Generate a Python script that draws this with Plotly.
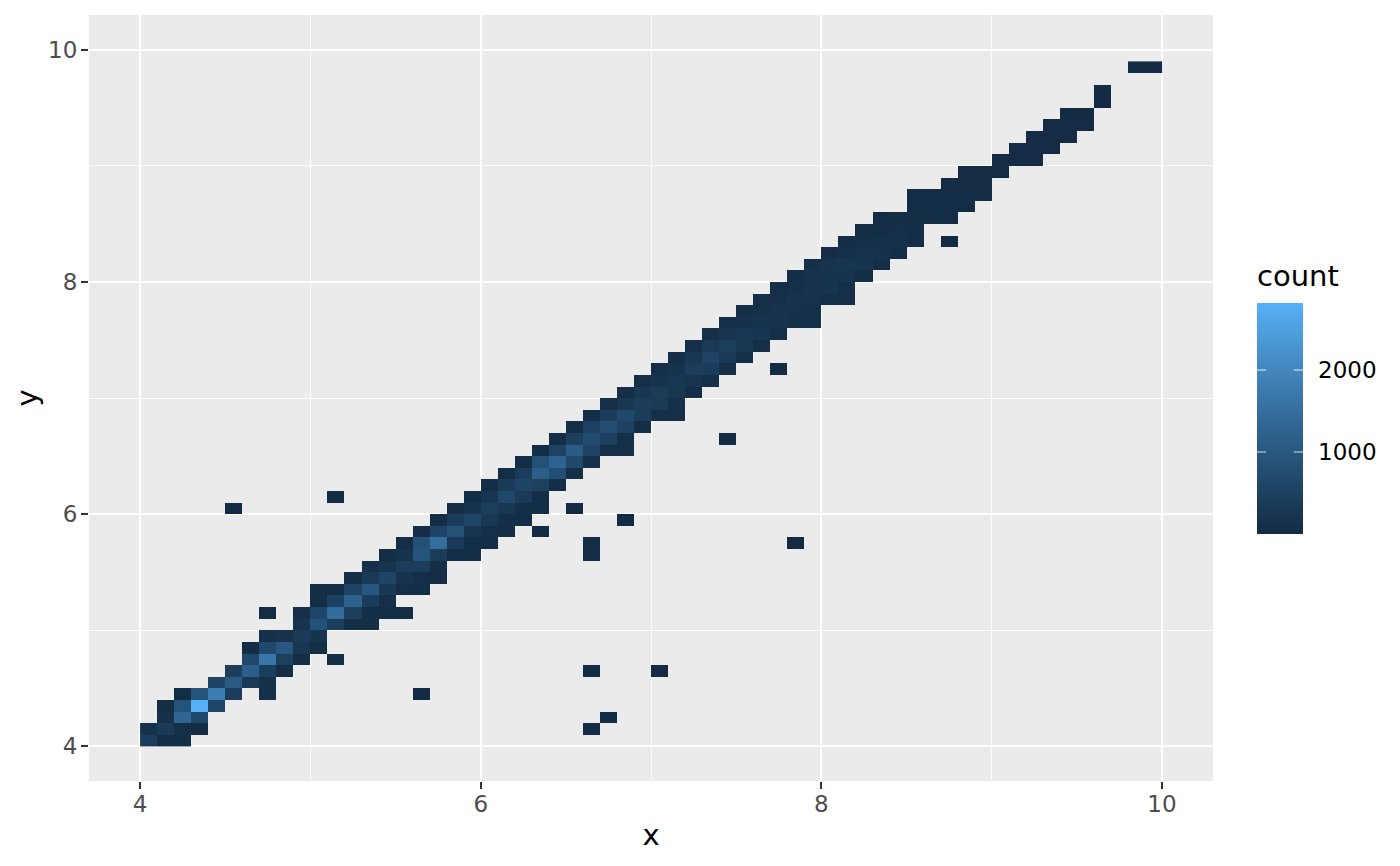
import numpy as np
import plotly.graph_objects as go

# Bin layout (bin width 0.1, lower edges start at 4.0)
x_bin_centers = [round(4.05 + 0.1 * i, 2) for i in range(60)]
y_bin_centers = [round(4.05 + 0.1 * i, 2) for i in range(59)]

# First x-bin index in each y-bin row, and the counts running along that row
row_start = [0, 0, 1, 1, 2, 4, 5, 6, 6, 7, 9, 9, 10, 10, 12, 13, 14, 15, 16, 17,
             18, 19, 20, 21, 22, 23, 24, 25, 26, 27, 28, 29, 30, 31, 32, 33, 34, 35, 36, 37,
             38, 39, 40, 41, 42, 43, 45, 45, 47, 48, 50, 51, 52, 53, 54, 56, 56, 0, 58]
row_counts = [
    [420, 80, 60], [150, 350, 90, 40], [130, 1300, 650], [60, 900, 2817, 620],
    [50, 900, 1800, 420], [600, 1070, 320, 130], [450, 1150, 450, 60], [650, 1650, 480, 60],
    [50, 650, 1000, 280, 60], [120, 170, 350, 200], [200, 880, 450, 60, 60],
    [100, 620, 1460, 470, 80, 80, 60], [60, 520, 1250, 420, 100], [60, 60, 560, 1000, 300, 90, 70],
    [60, 320, 600, 200, 90, 70], [120, 220, 400, 400, 100], [80, 200, 900, 420, 70, 70],
    [80, 850, 1490, 350, 80, 80], [80, 600, 850, 250, 90, 70], [70, 420, 620, 300, 100, 80],
    [70, 200, 450, 270, 70, 70], [80, 250, 650, 350, 80], [70, 350, 600, 480, 80],
    [70, 400, 1150, 800, 90], [70, 850, 1250, 650, 90], [70, 550, 1100, 550, 90, 90],
    [80, 480, 750, 480, 100], [80, 500, 750, 500, 80], [100, 400, 680, 420, 100, 100],
    [100, 280, 420, 350, 110], [90, 280, 380, 280, 90], [90, 190, 270, 230, 90],
    [90, 160, 400, 400, 100], [80, 280, 560, 330, 90], [90, 320, 450, 270, 90],
    [90, 240, 300, 250, 90], [90, 140, 220, 200, 110, 110], [90, 110, 170, 140, 110],
    [90, 90, 180, 160, 90, 90], [90, 120, 170, 220, 90], [80, 170, 220, 220, 80],
    [90, 200, 250, 200, 80], [80, 120, 170, 130, 80], [70, 100, 110, 110, 70],
    [60, 80, 90, 80], [50, 60, 60, 50, 50], [45, 45, 45, 45], [45, 45, 45, 45, 45],
    [40, 40, 40], [40, 40, 40], [30, 30, 30], [30, 30, 30], [30, 30, 30], [30, 30, 30],
    [20, 20], [10], [10], [], [10, 10],
]

# Isolated bins away from the main band
stray_x_bin = [7, 16, 26, 27, 26, 30, 11, 7, 5, 11, 25, 23, 28, 26, 26, 38, 34, 37, 47]
stray_y_bin = [4, 4, 1, 2, 6, 6, 7, 11, 20, 21, 20, 18, 19, 16, 17, 17, 26, 32, 43]
stray_count = [110, 10, 10, 10, 10, 10, 60, 40, 10, 10, 10, 10, 10, 30, 30, 10, 10, 10, 10]

x_ticks = [4, 6, 8, 10]
y_ticks = [4, 6, 8, 10]
minor_ticks = [5, 7, 9]
legend_ticks = [1000, 2000]
legend_title = "count"
count_max = 2817

# ggplot2 default gradient (#132B43 -> #56B1F7, interpolated in Lab)
gradient = [[0.0, "#132B43"], [0.125, "#1A3A57"], [0.25, "#214A6D"], [0.375, "#2A5A83"],
            [0.5, "#336A98"], [0.625, "#3C7BAE"], [0.75, "#458CC5"], [0.875, "#4D9EDD"],
            [1.0, "#56B1F7"]]

z = [[None] * len(x_bin_centers) for _ in y_bin_centers]
for r, (s, counts) in enumerate(zip(row_start, row_counts)):
    for k, n in enumerate(counts):
        z[r][s + k] = n
for c, r, n in zip(stray_x_bin, stray_y_bin, stray_count):
    z[r][c] = n

W, H = 1400, 866
def xdom(a, b): return [a / W, b / W]
def ydom(top, bottom): return [(H - bottom) / H, (H - top) / H]

fig = go.Figure()
fig.add_trace(go.Heatmap(x=x_bin_centers, y=y_bin_centers, z=z, colorscale=gradient,
                         zmin=0, zmax=count_max, showscale=False, hoverongaps=False,
                         xaxis="x", yaxis="y"))

# Legend colour bar drawn as a ramp on its own small axes, so its ticks can sit on both edges
ramp = np.linspace(0, count_max, 232)
fig.add_trace(go.Heatmap(x=[0], y=ramp, z=[[v] for v in ramp], colorscale=gradient,
                         zmin=0, zmax=count_max, showscale=False, hoverinfo="skip",
                         xaxis="x2", yaxis="y2"))
for t in legend_ticks:
    fig.add_trace(go.Scatter(x=[-0.5, -0.3, None, 0.3, 0.5], y=[t, t, None, t, t], mode="lines",
                             line=dict(color="rgba(255,255,255,0.85)", width=1),
                             hoverinfo="skip", showlegend=False, xaxis="x2", yaxis="y2"))

FONT = "DejaVu Sans"
tickfont = dict(family=FONT, size=23, color="#4D4D4D")
axis_common = dict(showgrid=True, gridcolor="white", gridwidth=2.4, zeroline=False, showline=False,
                   ticks="outside", ticklen=7, tickwidth=2.3, tickcolor="#333333",
                   tickfont=tickfont, fixedrange=True,
                   minor=dict(tickvals=minor_ticks, showgrid=True, gridcolor="white", gridwidth=1.2,
                              ticks=""))

fig.update_layout(
    width=W, height=H, margin=dict(l=0, r=0, t=0, b=0), autosize=False,
    paper_bgcolor="white", plot_bgcolor="#EBEBEB", showlegend=False,
    font=dict(family=FONT),
    xaxis=dict(domain=xdom(89, 1213), range=[3.7, 10.3], tickvals=x_ticks, anchor="y",
               ticklabelstandoff=-5,
               title=dict(text="x", font=dict(family=FONT, size=29, color="black"), standoff=9),
               **axis_common),
    yaxis=dict(domain=ydom(15, 781), range=[3.7, 10.3], tickvals=y_ticks, anchor="x",
               ticklabelstandoff=-1,
               title=dict(text="y", font=dict(family=FONT, size=29, color="black"), standoff=1),
               **axis_common),
    xaxis2=dict(domain=xdom(1257, 1303), range=[-0.5, 0.5], anchor="y2", visible=False, fixedrange=True),
    yaxis2=dict(domain=ydom(303, 534), range=[0, count_max], anchor="x2", side="right",
                tickvals=legend_ticks, ticks="", showgrid=False, zeroline=False, showline=False,
                tickfont=dict(family=FONT, size=23, color="black"), ticklabelstandoff=14,
                fixedrange=True),
    annotations=[dict(text=legend_title, xref="paper", yref="paper", x=1255 / W, y=(H - 276) / H,
                      xanchor="left", yanchor="middle", showarrow=False,
                      font=dict(family=FONT, size=29, color="black"))],
)

fig.write_html("out.html", config=dict(displayModeBar=False),
               post_script="document.body.style.margin='0';document.body.style.overflow='hidden';")
